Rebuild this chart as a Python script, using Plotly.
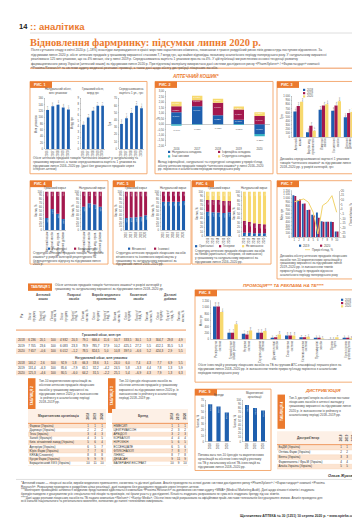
import textwrap
import plotly.graph_objects as go

# ======================= DATA =======================
years5 = ['2016', '2017', '2018', '2019', '2020']
years3 = ['2018', '2019', '2020']

fig1_titles = ['Натуральний обсяг,<br>млн упаковок', 'Грошовий обсяг,<br>млрд грн', 'Середньозважена<br>вартість 1 уп., грн']
fig1_units = [123, 135, 140, 131, 125]
fig1_money = [4.3, 5.6, 6.8, 7.7, 7.7]
fig1_price = [34.6, 42.4, 49.7, 59.9, 56.2]

fig2_labels = ['Натуральна складова', 'Інфляційна складова', 'Інші чинники', 'Структурна складова']
fig2_natural = [1.09, 1.64, 0.82, 0.41, -0.90]
fig2_inflation = [0.55, 0.54, 1.14, 0.93, 0.74]
fig2_structure = [0.40, 0.41, 0.36, 0.27, 0.35]
fig2_other = [-0.14, -0.05, -0.03, -0.08, -0.22]

fig3_cats = ['Аптечний<br>кошик', 'Вироби мед.<br>призначення', 'Лікарські<br>засоби', 'Косметичні<br>засоби', 'Дієтичні<br>добавки']
fig3_2018 = [630, 118, 669, 646, 488]
fig3_2019 = [764, 276, 772, 772, 591]
fig3_2020 = [866, 157, 803, 882, 614]

fig4_titles = ['Грошовий вираз', 'Натуральний вираз']
fig4_cats = ['Аптечний кошик', 'Лікарські засоби', 'Вироби мед. призн.', 'Дієтичні добавки']
fig4_labels = ['Рецептурні', 'Безрецептурні']
fig4_money_a = [32, 55, 43, 29]
fig4_money_b = [68, 45, 57, 71]
fig4_units_a = [61, 70, 67, 61]
fig4_units_b = [39, 30, 33, 39]

fig5_titles = ['Грошовий вираз', 'Натуральний вираз']
fig5_labels = ['Вітчизняні', 'Іноземні']
fig5_money_a = [32, 33, 34, 35, 39]
fig5_money_b = [68, 67, 66, 65, 61]
fig5_units_a = [74, 74, 74, 74, 76]
fig5_units_b = [26, 26, 26, 26, 24]

fig6_titles = ['Грошовий вираз', 'Натуральний вираз']
fig6_labels = ['Оригінальні', 'Генерики', 'Не визначено']
fig6_money_a = [55, 54, 53, 52, 54]
fig6_money_b = [26, 27, 28, 27, 25]
fig6_money_c = [19, 19, 19, 21, 21]
fig6_units_a = [8, 8, 7, 7, 7]
fig6_units_b = [27, 24, 22, 21, 20]
fig6_units_c = [65, 68, 71, 72, 73]

fig7_cats = ['1', '2', '3', '4', '5', '6', '7', '8', '9', '10']
fig7_2019 = [1080, 950, 860, 700, 580, 640, 410, 400, 400, 150]
fig7_2020 = [1060, 970, 870, 710, 560, 500, 400, 400, 395, 150]
fig7_growth = [8.0, 9.3, 11.1, 7.5, -3.2, -26.4, 4.0, 7.5, 14.6, -3.2]

fig8_cats = ['Респіраторна<br>система', 'Травний тракт<br>і обмін речовин', 'Нервова<br>система', 'Серцево-судинна<br>система',
             'Дерматологічні<br>засоби', 'Сечостатева<br>система', 'Кістково-м\'язова<br>система', 'Протимікробні<br>засоби',
             'Органи<br>чуття', 'Кров і органи<br>кровотворення']
fig8_2018 = [1022, 209, 177, 209, 52, 125, 73, 52, 10, 52]
fig8_2019 = [1022, 209, 156, 209, 73, 125, 73, 52, 10, 52]
fig8_2020 = [855, 470, 282, 261, 156, 125, 83, 31, 73, 42]

fig9_titles = ['Бренди', 'Маркетингові<br>організації']
fig9_brands = [63, 59, 49]
fig9_orgs = [88, 81, 75]

tab1_groups = ['Аптечний<br>кошик', 'Лікарські<br>засоби', 'Вироби медичного<br>призначення', 'Косметичні<br>засоби', 'Дієтичні<br>добавки']
tab1_sub = ['Обсяг<br>продажу', 'Приріст/<br>спад, %', 'Питома<br>частка, %']
tab1_money = [
    ['2018', '6 236', '20,1', '100', '4 932', '20,3', '79,1', '666,4', '11,6', '10,7', '333,5', '30,1', '5,3', '304,7', '29,8', '4,9'],
    ['2019', '7 705', '23,6', '100', '6 083', '23,3', '78,9', '785,7', '17,9', '10,2', '425,1', '27,2', '5,5', '412,1', '35,5', '5,3'],
    ['2020', '7 657', '–0,6', '100', '6 012', '–1,2', '78,5', '824,5', '5,0', '10,8', '397,0', '–6,6', '5,2', '424,3', '2,9', '5,5'],
]
tab1_units = [
    ['2018', '140,2', '2,6', '100', '92,9', '1,8', '66,3', '33,6', '3,1', '24,0', '6,0', '7,4', '4,3', '7,7', '6,9', '5,5'],
    ['2019', '131,4', '–6,3', '100', '85,6', '–7,9', '65,1', '32,2', '–4,2', '24,5', '5,8', '–3,3', '4,4', '7,8', '1,3', '5,9'],
    ['2020', '125,3', '–4,6', '100', '80,5', '–6,0', '64,2', '31,5', '–2,2', '25,1', '5,4', '–6,9', '4,3', '7,9', '1,3', '6,3'],
]

tab2_names = ['Фармак (Україна)', 'Дарниця (Україна)', 'Teva (Ізраїль)', 'Sanofi (Франція)',
              'Київ. вітамінний завод (Україна)', 'Артеріум (Україна)', 'Юрія-Фарм (Україна)',
              'KRKA (Словенія)', 'Кусум Фарм (Україна)', 'Борщагівський ХФЗ (Україна)']
tab2_r2018 = [1, 2, 3, 4, 5, 6, 7, 8, 9, 10]
tab2_r2019 = [1, 2, 4, 3, 6, 5, 7, 8, 9, 11]
tab2_r2020 = [1, 2, 3, 5, 4, 7, 6, 8, 9, 10]

tab3_names = ['НІМЕСИЛ', 'ЦЕФТРИАКСОН', 'АРБІДОЛ', 'КОРВАЛОЛ', 'НУРОФЄН', 'ЕССЕНЦІАЛЕ', 'ФЛУКОНАЗОЛ',
              'ЛІНЕКС', 'ДЕКАСАН', 'ВАЛЕРІАНИ ЕКСТРАКТ']
tab3_r2018 = [1, 2, 3, 4, 5, 6, 7, 8, 9, 10]
tab3_r2019 = [1, 3, 2, 4, 6, 5, 8, 7, 11, 9]
tab3_r2020 = [1, 2, 3, 4, 5, 6, 7, 8, 9, 10]

tab4_names = ['БаДМ (Україна)', 'Оптіма-Фарм (Україна)', 'Вента (Україна)',
              'Фармпланета / Фра-М (Україна)', 'Альба Україна (Україна)']
tab4_r2018 = [1, 2, 3, 4, 5]
tab4_r2019 = [1, 2, 3, 4, 5]
tab4_r2020 = [1, 2, 3, 4, 5]

# ======================= STYLE / HELPERS =======================
W, H = 360, 530
FONT = 'Liberation Sans'
ORANGE = '#EB7A2E'
ORANGE_BOX = '#F3A468'
PEACH = '#FCE4D1'
BLUE = '#1E5FAE'
MAROON = '#A3184E'
YELLOW = '#F7D96E'
TEAL = '#37B4C4'
TXT = '#4a4a4a'
AX = '#9a9a9a'

fig = go.Figure()
shapes, annots = [], []
n_ax = [0]


def X(x):
    return x / W


def Y(y):
    return 1 - y / H


def fmt(v, d=1):
    return f'{v:.{d}f}'.replace('.', ',')


def axes(x0, y0, x1, y1, xkw=None, ykw=None):
    n_ax[0] += 1
    s = '' if n_ax[0] == 1 else str(n_ax[0])
    xa = dict(domain=[X(x0), X(x1)], anchor='y' + s, showgrid=False, zeroline=False,
              showline=True, linecolor=AX, linewidth=0.5, ticks='', type='category',
              tickfont=dict(size=2.7, color=TXT, family=FONT), tickangle=-90, fixedrange=True)
    ya = dict(domain=[Y(y1), Y(y0)], anchor='x' + s, showgrid=False, zeroline=False,
              showline=True, linecolor=AX, linewidth=0.5, ticks='outside', ticklen=1,
              tickwidth=0.4, tickcolor=AX, tickfont=dict(size=2.7, color=TXT, family=FONT),
              fixedrange=True)
    if xkw:
        xa.update(xkw)
    if ykw:
        ya.update(ykw)
    fig.update_layout(**{'xaxis' + s: xa, 'yaxis' + s: ya})
    return 'x' + s, 'y' + s


def txt(x, y, s, size=3.2, color=TXT, anchor='left', yanchor='middle', angle=0, family=FONT):
    annots.append(dict(x=X(x), y=Y(y), xref='paper', yref='paper', text=s, showarrow=False,
                       xanchor=anchor, yanchor=yanchor, textangle=angle, borderpad=0,
                       font=dict(size=size, color=color, family=family)))


def ytitle(x, y0, y1, s, size=3.0):
    txt(x, (y0 + y1) / 2, s, size=size, anchor='center', angle=-90)


def para(x, y, s, nchars, lh=4.0, size=3.2, color=TXT):
    for i, line in enumerate(textwrap.wrap(s, nchars)):
        txt(x, y + i * lh, line, size=size, color=color)


def rect(x0, y0, x1, y1, fill=None, line=None, lw=0.8, layer='below'):
    shapes.append(dict(type='rect', xref='paper', yref='paper', x0=X(x0), x1=X(x1), y0=Y(y1), y1=Y(y0),
                       line=dict(color=line or 'rgba(0,0,0,0)', width=lw if line else 0),
                       fillcolor=fill or 'rgba(0,0,0,0)', layer=layer))


def hline(x0, x1, y, color, w=0.5):
    shapes.append(dict(type='line', xref='paper', yref='paper', x0=X(x0), x1=X(x1), y0=Y(y), y1=Y(y),
                       line=dict(color=color, width=w)))


def box(x0, y0, x1, y1, label):
    rect(x0, y0, x1, y1, line=ORANGE_BOX, lw=0.9)
    rect(x0, y0, x0 + 22, y0 + 6.5, fill=ORANGE)
    txt(x0 + 3, y0 + 3.4, '<b>' + label + '</b>', size=3.6, color='white')


def leg(x, y, color, label, kind='sq', size=2.9):
    if kind == 'sq':
        rect(x, y - 1.1, x + 2.2, y + 1.1, fill=color, layer='above')
    else:
        hline(x - 1, x + 4, y, color, 0.8)
        x += 2
    txt(x + 3.2, y, label, size=size)


def bars(xa, ya, cats, vals, color, width=0.6, offset=None, base=None, text=None,
         textpos='outside', textangle=-90, textcolor=TXT, textsize=2.5):
    fig.add_trace(go.Bar(x=cats, y=vals, xaxis=xa, yaxis=ya, marker=dict(color=color, line=dict(width=0)),
                         width=width, offset=offset, base=base, text=text, textposition=textpos,
                         textangle=textangle, cliponaxis=False, constraintext='none',
                         textfont=dict(size=textsize, color=textcolor, family=FONT),
                         showlegend=False, hoverinfo='skip'))


def grouped(xa, ya, cats, series, colors, total=0.78, labels=True, textsize=2.4, d=0):
    w = total / len(series)
    for i, (vals, col) in enumerate(zip(series, colors)):
        bars(xa, ya, cats, vals, col, width=w, offset=-total / 2 + i * w,
             text=[fmt(v, d) for v in vals] if labels else None, textsize=textsize)


def stacked(xa, ya, cats, series, colors, width=0.62, inside=True, textangle=-90, textsize=2.3, suffix='%', d=0):
    pos = [0.0] * len(cats)
    neg = [0.0] * len(cats)
    for vals, col in zip(series, colors):
        base = []
        for j, v in enumerate(vals):
            if v >= 0:
                base.append(pos[j]); pos[j] += v
            else:
                base.append(neg[j]); neg[j] += v
        bars(xa, ya, cats, vals, col, width=width, base=base,
             text=[fmt(v, d) + suffix for v in vals] if inside else None,
             textpos='inside', textangle=textangle, textcolor='white', textsize=textsize)


# ======================= PAGE HEADER =======================
txt(10, 16.5, '<b>14</b>', size=7.5, color='#222222')
txt(20.5, 16.5, '<b>:: аналітика</b>', size=9.5, color=ORANGE)
hline(22, 350, 23.2, '#c8c8c8', 0.6)
txt(21, 32.5, '<b>Відновлення фармринку: підсумки липня 2020 р.</b>', size=10.4, color=ORANGE,
    family='Liberation Serif')
INTRO = ('Після суттєвого спаду в квітні 2020 р. (–18%) внаслідок запровадження в країні жорстких карантинних '
         'обмежень, починаючи з травня роздрібний ринок ліків демонструє поступове відновлення. За підсумками липня '
         '2020 р. обсяг аптечних продажів у грошовому вираженні становив 7,7 млрд грн, що майже відповідає показнику '
         'аналогічного періоду попереднього року. У натуральному вираженні реалізовано 125 млн упаковок, що на 4% менше, '
         'ніж у липні 2019 р. Середньозважена вартість 1 упаковки зросла на 4%. У цій публікації ми розглянемо основні '
         'тенденції розвитку фармацевтичного ринку України (аптечний кошик) за підсумками липня 2020 р. При підготовці '
         'матеріалу використано дані системи дослідження ринку «PharmXplorer» / «Фармстандарт» компанії «Proxima Research» '
         'та системи аудиту медичної реклами і промоції, а також дані щодо обсягу дистрибуції лікарських засобів.')
para(22, 40.5, INTRO, 188, lh=4.5, size=3.2)
hline(22, 349, 58.6, ORANGE, 0.8)
txt(187, 66.5, '<b><i>АПТЕЧНИЙ КОШИК*</i></b>', size=4.6, color=ORANGE, anchor='center')

# ======================= РИС. 1 =======================
box(22, 72, 139, 165, 'РИС. 1')
regions1 = [(37, 63), (73, 97), (111, 136)]
data1 = [(fig1_units, [0, 160], 20, 'Млн упаковок', 0),
         (fig1_money, [0, 9], 1, 'Млрд грн', 1),
         (fig1_price, [0, 70], 10, 'Грн', 1)]
for (x0, x1), (vals, rng, dt, yt, d), ttl in zip(regions1, data1, fig1_titles):
    xa, ya = axes(x0, 89, x1, 140, ykw=dict(range=rng, dtick=dt))
    bars(xa, ya, years5, vals, BLUE, width=0.55, text=[fmt(v, d) for v in vals], textsize=2.5)
    txt((x0 + x1) / 2, 82, ttl, size=2.9, anchor='center')
    ytitle(x0 - 9.5, 89, 140, yt, size=2.8)
CAP1 = ('Обсяг аптечних продажів товарів «аптечного кошика» у натуральному та грошовому вираженні, а також '
        'середньозважена вартість 1 упаковки за підсумками липня 2016–2020 рр. (дані без урахування продажів '
        'через інтернет-аптеки)')
para(24, 149, CAP1, 68, lh=3.9, size=3.1)

# ======================= РИС. 2 =======================
box(147, 72, 265, 165, 'РИС. 2')
xa, ya = axes(158, 82, 262, 137, xkw=dict(tickangle=0, showline=False),
              ykw=dict(range=[-2, 3], dtick=0.5, tickformat='.2f', zeroline=True, zerolinecolor=AX,
                       zerolinewidth=0.5))
stacked(xa, ya, years5, [fig2_natural, fig2_inflation, fig2_structure], [BLUE, MAROON, YELLOW],
        width=0.5, textangle=0, textsize=2.4, d=2)
bars(xa, ya, years5, fig2_other, TEAL, width=0.5,
     base=[min(v, 0) for v in fig2_natural], text=[fmt(v, 2) + '%' for v in fig2_other],
     textpos='outside', textangle=0, textsize=2.3)
ytitle(150, 82, 137, '%')
leg(160, 143, BLUE, fig2_labels[0]); leg(210, 143, MAROON, fig2_labels[1])
leg(160, 147.5, TEAL, fig2_labels[2]); leg(210, 147.5, YELLOW, fig2_labels[3])
CAP2 = ('Вклад інфляційної, натуральної та структурної складових у приріст/спад обсягу аптечних продажів '
        'товарів «аптечного кошика» у липні 2016–2020 рр. порівняно з аналогічним періодом попереднього року')
para(149, 153, CAP2, 70, lh=3.8, size=3.1)

# ======================= РИС. 3 =======================
box(269, 72, 349, 165, 'РИС. 3')
xa, ya = axes(284, 87, 347, 128, ykw=dict(range=[0, 1000], dtick=100, tickformat=',d'))
grouped(xa, ya, fig3_cats, [fig3_2018, fig3_2019, fig3_2020], [BLUE, MAROON, YELLOW], textsize=2.3)
ytitle(273.5, 87, 128, 'Грн')
for i, (c, lab) in enumerate(zip([BLUE, MAROON, YELLOW], years3)):
    leg(295, 80.5 + i * 3.3, c, lab, size=2.7)
CAP3 = ('Динаміка середньозваженої вартості 1 упаковки товарів «аптечного кошика» за підсумками липня '
        '2018–2020 рр. у розрізі категорій, грн')
para(271, 150.5, CAP3, 46, lh=3.9, size=3.1)

# ======================= РИС. 4 =======================
box(22, 172, 100, 256, 'РИС. 4')
for (x0, x1), a, b, ttl in zip([(36, 58), (73, 95)], [fig4_money_a, fig4_units_a], [fig4_money_b, fig4_units_b], fig4_titles):
    xa, ya = axes(x0, 183, x1, 222, ykw=dict(range=[0, 100], dtick=10))
    stacked(xa, ya, fig4_cats, [a, b], [BLUE, MAROON], width=0.6)
    txt((x0 + x1) / 2, 179, ttl, size=2.9, anchor='center')
    ytitle(x0 - 8, 183, 222, 'Частка, %', size=2.7)
leg(40, 240.5, BLUE, fig4_labels[0]); leg(66, 240.5, MAROON, fig4_labels[1])
CAP4 = ('Структура аптечних продажів товарів «аптечного кошика» у розрізі категорій рецептурного та '
        'безрецептурного відпуску за підсумками липня 2020 р.')
para(24, 245, CAP4, 46, lh=3.8, size=3.1)

# ======================= РИС. 5 =======================
box(105, 172, 183, 256, 'РИС. 5')
for (x0, x1), a, b, ttl in zip([(116, 140), (153, 178)], [fig5_money_a, fig5_units_a], [fig5_money_b, fig5_units_b], fig5_titles):
    xa, ya = axes(x0, 183, x1, 222, ykw=dict(range=[0, 100], dtick=10))
    stacked(xa, ya, years5, [a, b], [BLUE, MAROON], width=0.62)
    txt((x0 + x1) / 2, 179, ttl, size=2.9, anchor='center')
    ytitle(x0 - 8, 183, 222, 'Частка, %', size=2.7)
leg(120, 240.5, BLUE, fig5_labels[0]); leg(146, 240.5, MAROON, fig5_labels[1])
CAP5 = ('Структура аптечних продажів лікарських засобів вітчизняного та іноземного виробництва у '
        'грошовому та натуральному вираженні за підсумками липня 2016–2020 рр.')
para(107, 245, CAP5, 46, lh=3.8, size=3.1)

# ======================= РИС. 6 =======================
box(184, 172, 263, 256, 'РИС. 6')
for (x0, x1), a, b, c, ttl in zip([(197, 224), (234, 259)], [fig6_money_a, fig6_units_a], [fig6_money_b, fig6_units_b],
                                  [fig6_money_c, fig6_units_c], fig6_titles):
    xa, ya = axes(x0, 183, x1, 228, ykw=dict(range=[0, 100], dtick=10))
    stacked(xa, ya, years5, [a, b, c], [BLUE, MAROON, YELLOW], width=0.62)
    txt((x0 + x1) / 2, 179, ttl, size=2.9, anchor='center')
    ytitle(x0 - 8, 183, 228, 'Частка, %', size=2.7)
leg(187, 238, BLUE, fig6_labels[0], size=2.7); leg(211, 238, MAROON, fig6_labels[1], size=2.7)
leg(234, 238, YELLOW, fig6_labels[2], size=2.7)
CAP6 = ('Структура аптечних продажів лікарських засобів за типом (оригінальні, генерики, не визначено) у '
        'грошовому та натуральному вираженні за підсумками липня 2016–2020 рр.')
para(186, 242.5, CAP6, 47, lh=3.8, size=3.1)

# ======================= РИС. 7 =======================
box(269, 172, 349, 271, 'РИС. 7')
xa, ya = axes(284, 182, 331, 229, xkw=dict(tickangle=0),
              ykw=dict(range=[0, 1200], dtick=100, tickformat=',d'))
grouped(xa, ya, fig7_cats, [fig7_2019, fig7_2020], [BLUE, MAROON], total=0.8, labels=False)
n_ax[0] += 1
y2 = 'y' + str(n_ax[0])
fig.update_layout(**{'yaxis' + str(n_ax[0]): dict(overlaying=ya, anchor=xa, side='right', range=[-30, 20], dtick=5,
                                                   showgrid=False, zeroline=False, showline=True, linecolor=AX,
                                                   linewidth=0.5, ticks='outside', ticklen=1, tickwidth=0.4,
                                                   tickcolor=AX, tickfont=dict(size=2.7, color=TXT, family=FONT),
                                                   fixedrange=True)})
fig.add_trace(go.Scatter(x=fig7_cats, y=fig7_growth, xaxis=xa, yaxis=y2, mode='lines',
                         line=dict(color='#F2D36A', width=1), showlegend=False, hoverinfo='skip'))
ytitle(274, 182, 229, 'Млн грн')
ytitle(342.5, 182, 229, 'Приріст/спад, %')
leg(291, 237.5, BLUE, '2019', size=2.8); leg(312, 237.5, MAROON, '2020', size=2.8)
leg(298, 241.5, '#F2D36A', 'Приріст/спад, %', kind='line', size=2.8)
CAP7 = ('Динаміка обсягу аптечних продажів лікарських засобів топ-10 маркетингових організацій у грошовому '
        'вираженні за підсумками липня 2019–2020 рр. із зазначенням темпів приросту/спаду їх продажів '
        'відносно аналогічного періоду попереднього року')
para(271, 247.5, CAP7, 46, lh=3.9, size=3.1)

# ======================= ПРОМОЦІЯ / ТАБЛИЦЯ 1 =======================
txt(275, 277.5, '<b><i>ПРОМОЦІЯ*** ТА РЕКЛАМА НА ТБ****</i></b>', size=4.4, color=ORANGE, anchor='center')

rect(20, 275.5, 44, 283, fill=ORANGE)
txt(22, 279.3, '<b>ТАБЛИЦЯ 1</b>', size=3.4, color='white')
TAB1 = ('Обсяг аптечних продажів товарів «аптечного кошика» в розрізі категорій у грошовому та натуральному '
        'вираженні за підсумками липня 2018–2020 рр.')
para(46, 277.5, TAB1, 80, lh=3.8, size=3.1)

T1X0, T1X1 = 8, 178
ncol = len(tab1_money[0])
cw = (T1X1 - T1X0) / ncol


def colc(i):
    return T1X0 + (i + 0.5) * cw


for g, name in enumerate(tab1_groups):
    txt((colc(1 + 3 * g) + colc(3 + 3 * g)) / 2, 289, '<b>' + name + '</b>', size=3.0, anchor='center')
txt(colc(0), 308, '<b>Рік</b>', size=2.9, anchor='center', angle=-90)
for g in range(len(tab1_groups)):
    for k, sub in enumerate(tab1_sub):
        txt(colc(1 + 3 * g + k), 308, sub, size=2.7, anchor='center', angle=-90)
hline(T1X0, T1X1, 322.5, ORANGE, 0.8)


def table_body(x0, y0, x1, y1, rows_text_cols, nrows, stripes=True, sep=None):
    xa, ya = axes(x0, y0, x1, y1, xkw=dict(type='linear', range=[x0, x1], visible=False),
                  ykw=dict(range=[nrows, 0], visible=False))
    rh = (y1 - y0) / nrows
    for r in range(nrows):
        if stripes and r % 2 == 0:
            rect(x0, y0 + r * rh, x1, y0 + (r + 1) * rh, fill=PEACH)
        if sep:
            hline(x0, x1, y0 + (r + 1) * rh, sep, 0.3)
    for xpos, vals, align in rows_text_cols:
        fig.add_trace(go.Scatter(x=[xpos] * len(vals), y=[r + 0.5 for r in range(len(vals))], xaxis=xa, yaxis=ya,
                                 mode='text', text=[str(v) for v in vals], textposition=align,
                                 textfont=dict(size=3.0, color='#333333', family=FONT), cliponaxis=False,
                                 showlegend=False, hoverinfo='skip'))


txt((T1X0 + T1X1) / 2, 327.5, '<b>Грошовий обсяг, млн грн</b>', size=3.1, anchor='center')
table_body(T1X0, 330.5, T1X1, 346.5,
           [(colc(i), [row[i] for row in tab1_money], 'middle center') for i in range(ncol)], 3)
txt((T1X0 + T1X1) / 2, 350.5, '<b>Натуральний обсяг, млн упаковок</b>', size=3.1, anchor='center')
table_body(T1X0, 353.5, T1X1, 368, [(colc(i), [row[i] for row in tab1_units], 'middle center') for i in range(ncol)], 3)

# ======================= РИС. 8 =======================
box(187, 282, 350, 375, 'РИС. 8')
xa, ya = axes(203, 293, 347, 332, ykw=dict(range=[0, 1200], dtick=200, tickformat=',d'))
grouped(xa, ya, fig8_cats, [fig8_2018, fig8_2019, fig8_2020], [BLUE, MAROON, YELLOW], total=0.72, textsize=2.2)
ytitle(193, 293, 332, 'Млн грн')
for i, (c, lab) in enumerate(zip([BLUE, MAROON, YELLOW], years3)):
    leg(333, 292 + i * 3.3, c, lab, size=2.7)
CAP8 = ('Обсяг інвестицій у рекламу лікарських засобів на ТБ за групами АТС-класифікації першого рівня за '
        'підсумками липня 2018–2020 рр. із зазначенням темпів приросту/спаду порівняно з аналогічним періодом '
        'попереднього року')
para(189, 358, CAP8, 98, lh=3.9, size=3.1)

# ======================= ТАБЛИЦІ 2, 3 =======================
rect(20, 371, 27.5, 406, fill=ORANGE)
txt(23.8, 388.5, '<b>ТАБЛИЦЯ 2</b>', size=3.4, color='white', anchor='center', angle=-90)
TAB2 = ('Топ-10 маркетингових організацій за обсягом аптечних продажів лікарських засобів у грошовому '
        'вираженні за підсумками липня 2020 р. із зазначенням їх рейтингу в аналогічному періоді 2018–2019 рр.')
para(30, 374, TAB2, 40, lh=4.2, size=3.1)
rect(100, 371, 107.5, 406, fill=ORANGE)
txt(103.8, 388.5, '<b>ТАБЛИЦЯ 3</b>', size=3.4, color='white', anchor='center', angle=-90)
TAB3 = ('Топ-10 брендів лікарських засобів за обсягом аптечних продажів у грошовому вираженні за підсумками '
        'липня 2020 р. із зазначенням їх рейтингу в аналогічному періоді 2018–2019 рр.')
para(110, 374, TAB3, 40, lh=4.2, size=3.1)

rect(20, 402, 98, 416.5, fill='#FDF0E6')
txt(50, 409.5, '<b>Маркетингова організація</b>', size=3.2, anchor='center')
for k, yr in enumerate(years3):
    txt(80 + 7 * k, 409.5, '<b>' + yr + '</b>', size=3.0, anchor='center', angle=-90)
hline(20, 98, 416.5, ORANGE, 0.8)
table_body(20, 417, 98, 459, [(21.5, tab2_names, 'middle right'), (80, tab2_r2018, 'middle center'),
                              (87, tab2_r2019, 'middle center'), (94, tab2_r2020, 'middle center')],
           len(tab2_names), sep='#F6C7A2')

rect(104, 402, 180, 416.5, fill='#FDF0E6')
txt(135, 409.5, '<b>Бренд</b>', size=3.2, anchor='center')
for k, yr in enumerate(years3):
    txt(164 + 6.5 * k, 409.5, '<b>' + yr + '</b>', size=3.0, anchor='center', angle=-90)
hline(104, 180, 416.5, ORANGE, 0.8)
table_body(104, 417, 180, 459, [(105.5, tab3_names, 'middle right'), (164, tab3_r2018, 'middle center'),
                                (170.5, tab3_r2019, 'middle center'), (177, tab3_r2020, 'middle center')],
           len(tab3_names), sep='#F6C7A2')

# ======================= РИС. 9 =======================
box(187, 382, 263, 464, 'РИС. 9')
for (x0, x1), vals, rng, ttl in zip([(198, 223), (235, 259)], [fig9_brands, fig9_orgs], [[0, 70], [0, 100]], fig9_titles):
    xa, ya = axes(x0, 393, x1, 435, ykw=dict(range=rng, dtick=10))
    bars(xa, ya, years3, vals, BLUE, width=0.5, text=[fmt(v, 1) + '%' for v in vals], textpos='inside',
         textcolor='white', textsize=2.3)
    txt((x0 + x1) / 2, 388, ttl, size=2.8, anchor='center')
    ytitle(x0 - 8.5, 393, 435, 'Частка, %', size=2.7)
CAP9 = ('Питома вага топ-10 брендів та маркетингових організацій за обсягом інвестицій у рекламу на ТБ у '
        'загальному обсязі ТБ-інвестицій за підсумками липня 2018–2020 рр.')
para(189, 448.5, CAP9, 45, lh=3.9, size=3.1)

# ======================= ДИСТРИБ'ЮЦІЯ / ТАБЛИЦЯ 4 =======================
txt(315, 383, '<b><i>ДИСТРИБ\'ЮЦІЯ</i></b>', size=4.4, color=ORANGE, anchor='center')
rect(269.5, 387.5, 277, 422, fill=ORANGE)
txt(273.3, 404.7, '<b>ТАБЛИЦЯ 4</b>', size=3.4, color='white', anchor='center', angle=-90)
TAB4 = ('Топ-5 дистриб\'юторів за обсягом поставок лікарських засобів в аптечні заклади у грошовому вираженні '
        'за підсумками липня 2020 р. із зазначенням їх рейтингу в аналогічному періоді 2018–2019 рр.')
para(280, 391, TAB4, 40, lh=4.2, size=3.1)
rect(269, 424.5, 349, 438, fill='#FDF0E6')
txt(300, 431.5, '<b>Дистриб\'ютор</b>', size=3.2, anchor='center')
for k, yr in enumerate(years3):
    txt(333 + 6 * k, 431.5, '<b>' + yr + '</b>', size=3.0, anchor='center', angle=-90)
hline(269, 349, 438, ORANGE, 0.8)
table_body(269, 438.5, 349, 462.5, [(270.5, tab4_names, 'middle right'), (333, tab4_r2018, 'middle center'),
                                    (339, tab4_r2019, 'middle center'), (345, tab4_r2020, 'middle center')],
           len(tab4_names), sep='#F6C7A2')
txt(348, 470, '<b><i>Ольга Жукова</i></b>', size=3.8, color='#333333', anchor='right')

# ======================= FOOTNOTES =======================
hline(8, 350, 473, '#bbbbbb', 0.5)
NOTES = [
    ('*Аптечний кошик — лікарські засоби, вироби медичного призначення, косметика та дієтичні добавки. Аналіз '
     'проведено на основі даних системи дослідження ринку «PharmXplorer» / «Фармстандарт» компанії «Proxima Research». '
     'Розрахунки проведено в роздрібних цінах реалізації, дані наведено без урахування продажів через інтернет-аптеки.'),
    ('***Моніторинг промоційної активності медичних представників здійснюється компанією «Proxima Research» за '
     'допомогою системи аудиту «MMA» (Medical Marketing Audit). Дані щодо кількості візитів і згадувань брендів '
     'наведено з урахуванням усіх спеціальностей лікарів та провізорів, які брали участь у дослідженні. Кількість '
     'згадувань розраховано як сума всіх згадувань бренду під час візитів.'),
    ('****Дані щодо реклами лікарських засобів на ТБ надано компанією «Nielsen» / «Kantar Media». Обсяги інвестицій '
     'розраховано за офіційними прайс-листами телеканалів без урахування знижок. Аналіз проведено для всіх каналів '
     'національного та регіонального мовлення, включених до панелі телевізійних вимірювань.'),
]
yy = 476.5
for note in NOTES:
    for line in textwrap.wrap(note, 205):
        txt(12, yy, line, size=3.0)
        yy += 3.7
txt(347, 509.5, '<b>Щотижневик АПТЕКА № 30 (1251) 10 серпня 2020 р. • www.apteka.ua</b>', size=3.4,
    color='#333333', anchor='right')

# ======================= LAYOUT =======================
fig.update_layout(width=W, height=H, autosize=False, margin=dict(l=0, r=0, t=0, b=0),
                  paper_bgcolor='white', plot_bgcolor='rgba(0,0,0,0)', showlegend=False,
                  barmode='overlay', separators=', ', font=dict(family=FONT, color=TXT),
                  shapes=shapes, annotations=annots)
fig.write_html('out.html', config={'displayModeBar': False, 'staticPlot': True})
